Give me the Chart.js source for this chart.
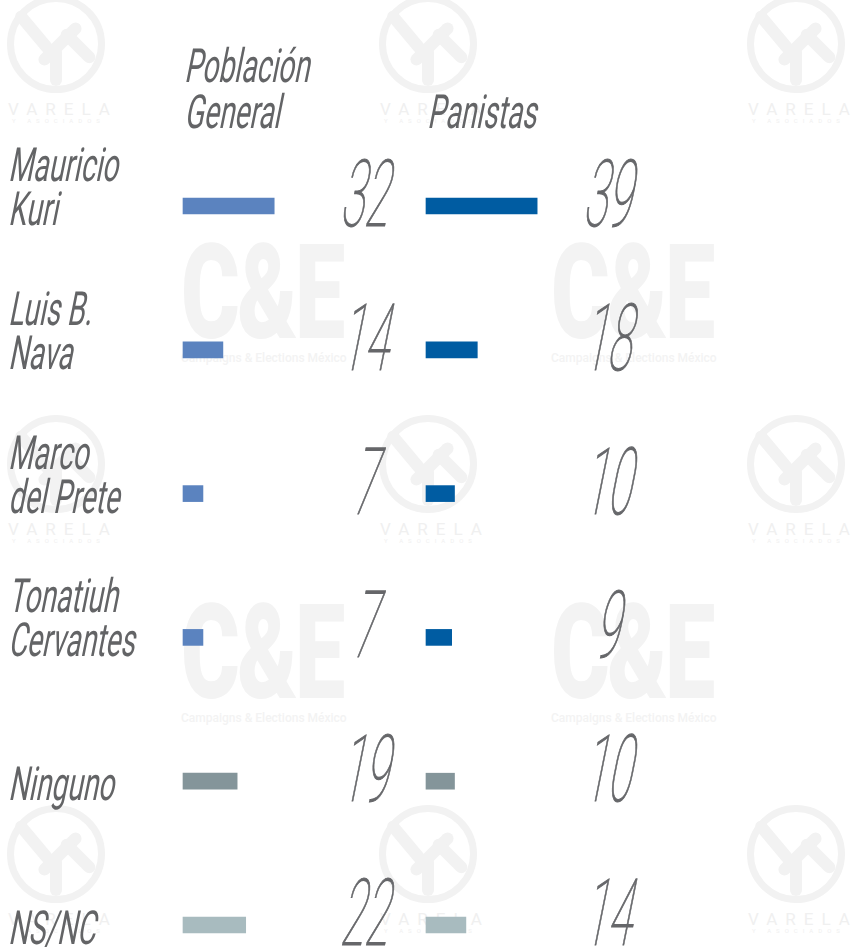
<!DOCTYPE html>
<html>
<head>
<meta charset="utf-8">
<script src="https://cdn.jsdelivr.net/npm/chart.js@4.4.1/dist/chart.umd.min.js"></script>
<style>
  html, body { margin: 0; padding: 0; background: #fff; }
  #wrap { position: relative; width: 858px; height: 948px; overflow: hidden; }
  canvas { position: absolute; top: 0; }
  #left { left: 0; }
  #right { left: 420px; }
  .ce { position: absolute; color: #f3f3f3; font-family: Roboto, sans-serif; }
  .ce b { display: block; font-weight: 900; font-size: 132px; line-height: 100px; transform: scaleX(0.68); transform-origin: 0 0; letter-spacing: -4px; }
  .ce span { display: block; font-size: 12px; font-weight: 500; margin-top: 8px; white-space: nowrap; }
  .va { position: absolute; width: 112px; color: #f0f0f0; font-family: Roboto, sans-serif; text-align: center; }
  .va .ring { width: 84px; height: 84px; margin: 0 auto; border: 7px solid #f2f2f2; border-radius: 50%; position: relative; }
  .va .bar { position: absolute; width: 12px; background: #f2f2f2; border-radius: 6px; }
  .va .t1 { font-size: 17px; letter-spacing: 8px; margin-top: 8px; line-height: 16px; padding-left: 8px; }
  .va .t2 { font-size: 6px; letter-spacing: 5px; line-height: 8px; padding-left: 5px; }
</style>
</head>
<body>
<div id="wrap">
  <div id="marks"></div>
  <canvas id="left" width="420" height="948"></canvas>
  <canvas id="right" width="438" height="948"></canvas>
</div>
<script>
const categories = [['Mauricio', 'Kuri'], ['Luis B.', 'Nava'], ['Marco', 'del Prete'], ['Tonatiuh', 'Cervantes'], ['Ninguno'], ['NS/NC']];
const poblacionGeneral = [32, 14, 7, 7, 19, 22];
const panistas = [39, 18, 10, 9, 10, 14];
const headerGeneral = ['Población', 'General'];
const headerPanistas = ['Panistas'];

const textColor = '#636466';
const numColor = '#66676a';

// watermarks in the background
const marks = document.getElementById('marks');
[[181, 243], [551, 243], [181, 603], [551, 603]].forEach(p => {
  const d = document.createElement('div');
  d.className = 'ce';
  d.style.left = p[0] + 'px';
  d.style.top = p[1] + 'px';
  d.innerHTML = '<b>C&amp;E</b><span>Campaigns &amp; Elections México</span>';
  marks.appendChild(d);
});
[[0, -5], [372, 415], [740, 415], [0, 415], [372, 805], [740, 805], [372, -5], [740, -5], [0, 805]].forEach(p => {
  const d = document.createElement('div');
  d.className = 'va';
  d.style.left = p[0] + 'px';
  d.style.top = p[1] + 'px';
  d.innerHTML = '<div class="ring">' +
    '<div class="bar" style="left:14px;top:4px;height:52px;transform:rotate(-40deg)"></div>' +
    '<div class="bar" style="left:40px;top:14px;height:56px;transform:rotate(45deg)"></div>' +
    '<div class="bar" style="left:58px;top:22px;height:44px;transform:rotate(-45deg)"></div>' +
    '<div class="bar" style="left:36px;top:44px;height:40px"></div>' +
    '</div><div class="t1">VARELA</div><div class="t2">Y ASOCIADOS</div>';
  marks.appendChild(d);
});

// condensed, slanted text drawn on the canvas
function drawText(ctx, text, x, y, font, sx, skew, align, stroke) {
  ctx.save();
  ctx.setTransform(sx, 0, -skew, 1, x, y);
  ctx.font = font;
  ctx.textAlign = align || 'left';
  ctx.textBaseline = 'alphabetic';
  ctx.fillText(text, 0, 0);
  if (stroke) {
    ctx.lineWidth = stroke;
    ctx.strokeText(text, 0, 0);
  }
  ctx.restore();
}

const catFont = '400 47px Roboto, "Liberation Sans", sans-serif';
const numFont = '100 93px Roboto, "Liberation Sans", sans-serif';

const textPlugin = {
  id: 'textPlugin',
  afterDatasetsDraw(chart, args, opts) {
    const ctx = chart.ctx;
    const xs = chart.scales.x;
    const ys = chart.scales.y;
    const x0 = xs.getPixelForValue(0);
    ctx.save();
    ctx.fillStyle = textColor;
    const head = opts.header;
    head.forEach((line, i) => {
      drawText(ctx, line, x0 + 1, 128 - (head.length - 1 - i) * 46, catFont, 0.6, 0.2);
    });
    if (opts.showCategories) {
      chart.data.labels.forEach((lab, i) => {
        const cy = ys.getPixelForValue(i);
        lab.forEach((line, j) => {
          drawText(ctx, line, 8, cy + 19 - (lab.length - 1 - j) * 44, catFont, 0.6, 0.2);
        });
      });
    }
    ctx.fillStyle = numColor;
    ctx.strokeStyle = numColor;
    chart.data.datasets[0].data.forEach((v, i) => {
      const cy = ys.getPixelForValue(i);
      drawText(ctx, String(v), x0 + 180, cy + 20, numFont, 0.47, 0.2, 'center', 1.1);
    });
    ctx.restore();
  }
};

function makeChart(id, values, colors, header, showCategories, padLeft, padRight) {
  return new Chart(document.getElementById(id), {
    type: 'bar',
    data: {
      labels: categories,
      datasets: [{
        data: values,
        backgroundColor: colors,
        borderWidth: 0,
        barThickness: 16,
        clip: false
      }]
    },
    options: {
      indexAxis: 'y',
      responsive: false,
      animation: false,
      layout: { padding: { top: 206, bottom: 23, left: padLeft, right: padRight } },
      scales: {
        x: { display: false, min: 0, max: 80 },
        y: { display: false, offset: false, grid: { display: false } }
      },
      plugins: {
        legend: { display: false },
        tooltip: { enabled: false },
        textPlugin: { header: header, showCategories: showCategories }
      }
    },
    plugins: [textPlugin]
  });
}

makeChart('left', poblacionGeneral,
  ['#5b83bf', '#5b83bf', '#5b83bf', '#5b83bf', '#84959a', '#a8bbbf'],
  headerGeneral, true, 183, 9);
makeChart('right', panistas,
  ['#005ca2', '#005ca2', '#005ca2', '#005ca2', '#84959a', '#a8bbbf'],
  headerPanistas, false, 6, 204);
</script>
</body>
</html>
